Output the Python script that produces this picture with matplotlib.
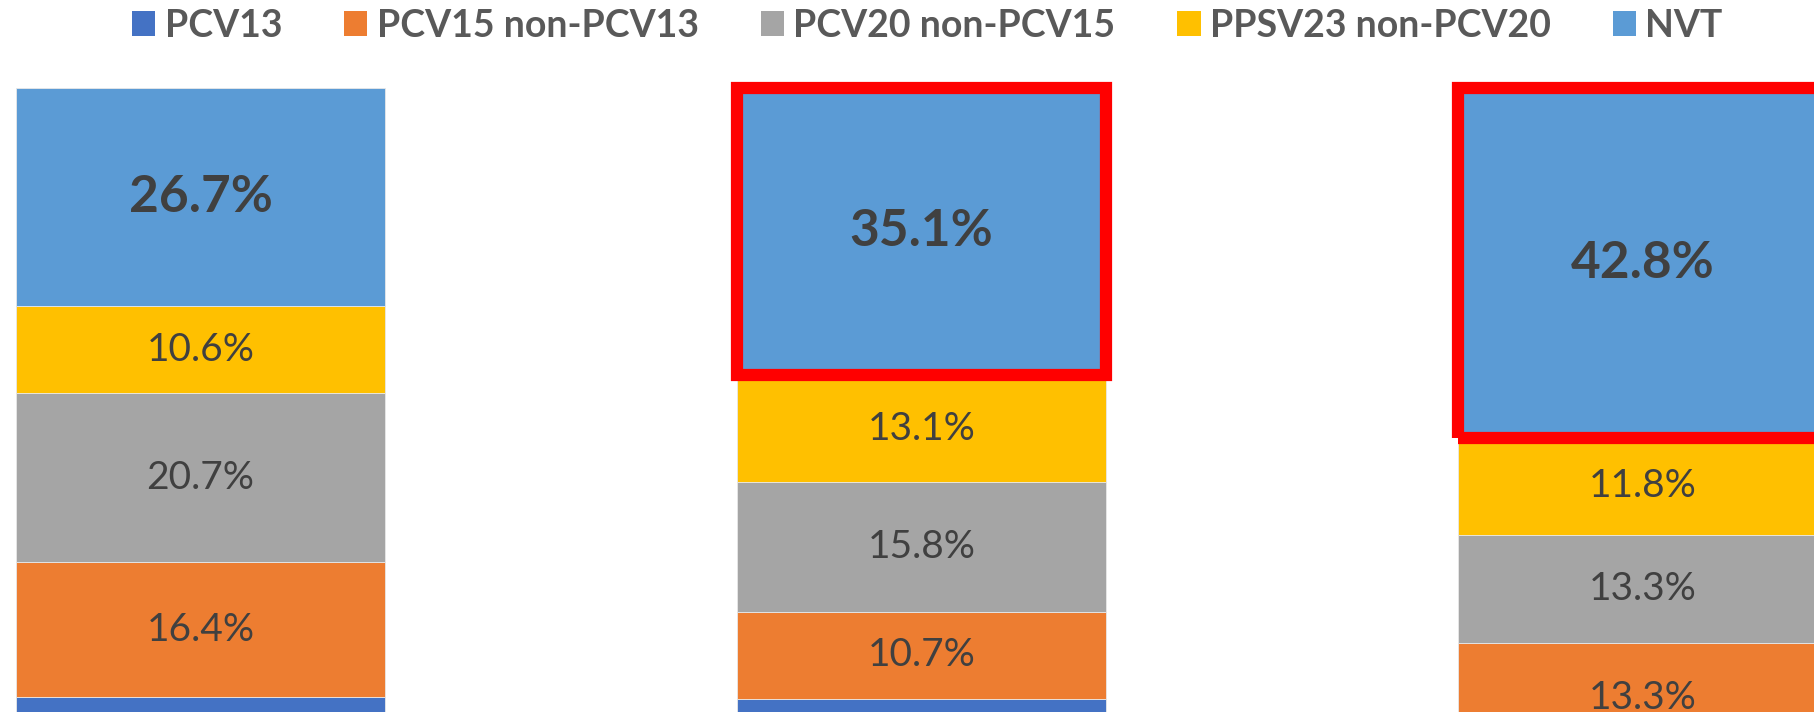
import matplotlib
matplotlib.use("Agg")
import matplotlib.pyplot as plt
from matplotlib.patches import Rectangle, Patch
import numpy as np

# ---- data ----
groups = ["Bar 1", "Bar 2", "Bar 3"]
series = ["PCV13", "PCV15 non-PCV13", "PCV20 non-PCV15", "PPSV23 non-PCV20", "NVT"]
pcv13 = [25.6, 25.3, 18.8]
pcv15_non13 = [16.4, 10.7, 13.3]
pcv20_non15 = [20.7, 15.8, 13.3]
ppsv23_non20 = [10.6, 13.1, 11.8]
nvt = [26.7, 35.1, 42.8]
highlight = [False, True, True]

colors = ["#4472C4", "#ED7D31", "#A5A5A5", "#FFC000", "#5B9BD5"]
label_color = "#404040"

plt.rcParams['font.family'] = ['Lato', 'DejaVu Sans']

fig = plt.figure(figsize=(18.15, 7.12), dpi=100)
ax = fig.add_axes([0, -0.2725, 1, 1.1489])
ax.set_ylim(0, 100)
ax.set_xlim(-0.278, 2.239)
ax.axis("off")

x = np.arange(len(groups))
width = 0.512
data = [pcv13, pcv15_non13, pcv20_non15, ppsv23_non20, nvt]
bottom = np.zeros(len(groups))
for k, (vals, col, name) in enumerate(zip(data, colors, series)):
    vals = np.array(vals)
    ax.bar(x, vals, width, bottom=bottom, color=col, edgecolor="#E8E8E8",
           linewidth=0.6, label=name)
    if k > 0:
        for i in range(len(groups)):
            bold = (k == len(data) - 1)
            ax.text(x[i], bottom[i] + vals[i] / 2, f"{vals[i]:.1f}%",
                    ha="center", va="center", color=label_color,
                    fontsize=37 if bold else 28,
                    fontweight="bold" if bold else "normal")
    if k == len(data) - 1:
        for i in range(len(groups)):
            if highlight[i]:
                ax.add_patch(Rectangle((x[i] - width / 2, bottom[i]), width, vals[i],
                                       fill=False, edgecolor="#FF0000", linewidth=8.8,
                                       joinstyle="miter", clip_on=False, zorder=5))
    bottom = bottom + vals

handles = [Patch(facecolor=c, edgecolor="none") for c in colors]
leg = fig.legend(handles, series, loc="upper center", bbox_to_anchor=(0.511, 1.035),
                 ncol=5, frameon=False, handlelength=0.62,
                 handleheight=0.62, handletextpad=0.25, columnspacing=1.65,
                 prop={'weight': 'bold', 'size': 27})
for t in leg.get_texts():
    t.set_color("#595959")

fig.savefig("out.png", dpi=100)
